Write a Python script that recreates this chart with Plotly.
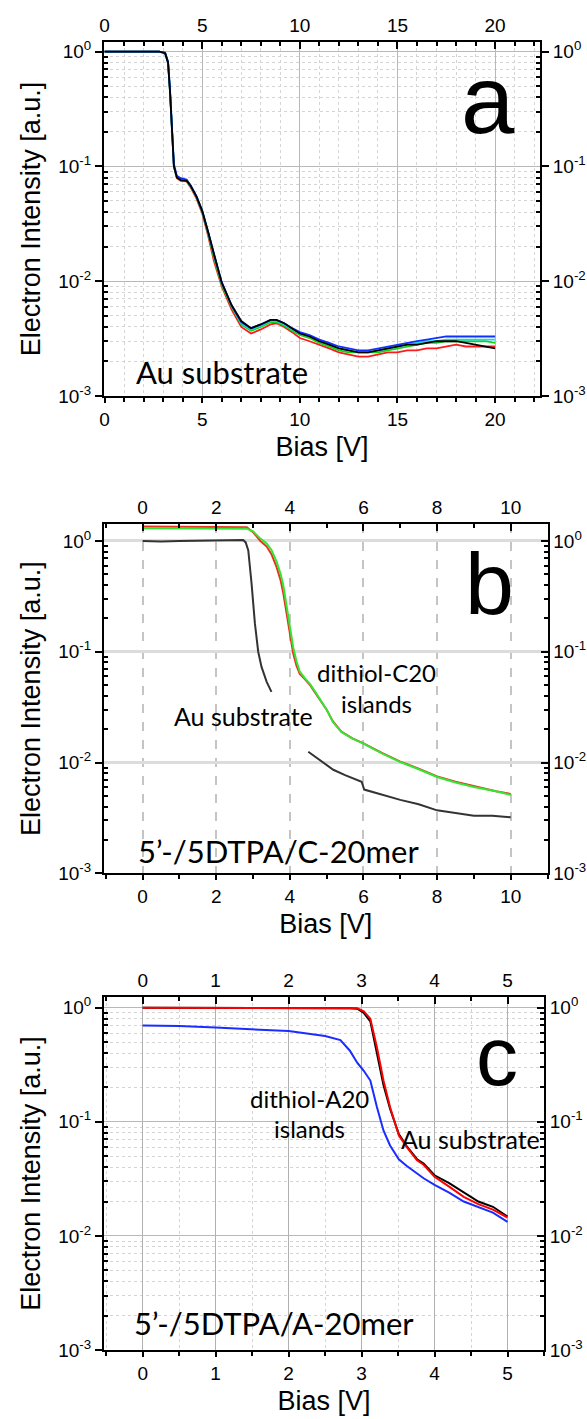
import plotly.graph_objects as go

W, H = 587, 1419

# ---------------- data: panel a (Au substrate, 5 scans) ----------------
A_BIAS = [0, 1, 2, 2.8, 3.1, 3.25, 3.35, 3.45, 3.55, 3.7, 3.9, 4.2, 4.4, 4.7,
          5.0, 5.3, 5.6, 6.0, 6.5, 7.0, 7.5, 8.0, 8.5, 8.8, 9.2, 9.6, 10, 10.5,
          11, 11.5, 12, 12.5, 13, 13.5, 14, 14.5, 15, 15.5, 16, 16.5, 17, 17.5,
          18, 18.5, 19, 19.5, 20]
A_BLACK = [1.0, 1.0, 1.0, 1.0,
           0.97, 0.80, 0.45, 0.20, 0.10,
           0.080, 0.076, 0.075, 0.068, 0.055,
           0.041, 0.027, 0.017, 0.0097, 0.0062,
           0.0045, 0.0039, 0.0042, 0.0046, 0.0046,
           0.0043, 0.0039, 0.0035, 0.0033, 0.0030,
           0.0028, 0.0026, 0.0025, 0.0024, 0.0024,
           0.0025, 0.0026, 0.0027, 0.0028, 0.0028,
           0.0029, 0.0030, 0.0030, 0.0030, 0.0029,
           0.0028, 0.0027, 0.0026]
A_BLUE = [1.0, 1.0, 1.0, 1.0,
          0.98, 0.82, 0.47, 0.21, 0.105,
          0.083, 0.079, 0.077, 0.069, 0.055,
          0.041, 0.027, 0.017, 0.0098, 0.0062,
          0.0044, 0.0039, 0.0042, 0.0046, 0.0046,
          0.0043, 0.0039, 0.0036, 0.0034, 0.0031,
          0.0029, 0.0027, 0.0026, 0.0025, 0.0025,
          0.0026, 0.0027, 0.0028, 0.0029, 0.0030,
          0.0031, 0.0032, 0.0033, 0.0033, 0.0033,
          0.0033, 0.0033, 0.0033]
A_CYAN = [1.0, 1.0, 1.0, 1.0,
          0.97, 0.81, 0.46, 0.20, 0.10,
          0.081, 0.077, 0.076, 0.068, 0.055,
          0.041, 0.027, 0.017, 0.0096, 0.0061,
          0.0043, 0.0038, 0.0041, 0.0045, 0.0045,
          0.0042, 0.0038, 0.0035, 0.0033, 0.0030,
          0.0028, 0.0026, 0.0025, 0.0024, 0.0024,
          0.0025, 0.0026, 0.0027, 0.0028, 0.0029,
          0.0030, 0.0030, 0.0031, 0.0031, 0.0031,
          0.0031, 0.0031, 0.0031]
A_GREEN = [1.0, 1.0, 1.0, 1.0,
           0.97, 0.80, 0.45, 0.20, 0.10,
           0.080, 0.076, 0.075, 0.067, 0.054,
           0.040, 0.026, 0.016, 0.0093, 0.0060,
           0.0042, 0.0037, 0.0040, 0.0044, 0.0044,
           0.0041, 0.0037, 0.0034, 0.0032, 0.0029,
           0.0027, 0.0025, 0.0024, 0.0024, 0.0024,
           0.0024, 0.0025, 0.0026, 0.0027, 0.0028,
           0.0029, 0.0029, 0.0030, 0.0030, 0.0030,
           0.0030, 0.0030, 0.0029]
A_RED = [1.0, 1.0, 1.0, 1.0,
         0.97, 0.80, 0.45, 0.20, 0.10,
         0.079, 0.075, 0.074, 0.066, 0.053,
         0.039, 0.025, 0.015, 0.0090, 0.0057,
         0.0040, 0.0035, 0.0038, 0.0042, 0.0043,
         0.0040, 0.0036, 0.0032, 0.0030, 0.0028,
         0.0026, 0.0024, 0.0023, 0.0022, 0.0022,
         0.0023, 0.0024, 0.0024, 0.0025, 0.0025,
         0.0026, 0.0026, 0.0027, 0.0028, 0.0027,
         0.0027, 0.0027, 0.0027]

# ---------------- data: panel b (C-20mer) ----------------
B_BIAS = [0, 0.5, 1, 1.5, 2, 2.5, 2.83, 3.0, 3.2, 3.37, 3.5, 3.64, 3.75, 3.82,
          3.9, 3.96, 4.03, 4.09, 4.18, 4.27, 4.4, 4.55, 4.7, 4.82, 5.0, 5.17,
          5.4, 5.7, 6.0, 6.5, 7.0, 7.5, 8.0, 8.5, 9.0, 9.6, 10.0]
B_RED = [1.35, 1.35, 1.35, 1.34, 1.34, 1.34, 1.33, 1.20, 1.00, 0.89,
         0.76, 0.58, 0.44, 0.34, 0.23, 0.168, 0.125, 0.097, 0.075, 0.063,
         0.057, 0.050, 0.042, 0.0365, 0.030, 0.0235, 0.019, 0.0165, 0.0149, 0.0122,
         0.0102, 0.0088, 0.0075, 0.0067, 0.0061, 0.0055, 0.0052]
B_GREEN = [1.30, 1.30, 1.30, 1.30, 1.30, 1.30, 1.29, 1.22, 1.05, 0.95,
           0.83, 0.65, 0.50, 0.40, 0.28, 0.20, 0.145, 0.11, 0.082, 0.066,
           0.058, 0.051, 0.043, 0.037, 0.030, 0.0232, 0.0189, 0.0164, 0.0148, 0.0121,
           0.0101, 0.0087, 0.0074, 0.0066, 0.0060, 0.0055, 0.0051]
B_AU_BIAS = [0, 0.5, 1, 1.5, 2, 2.5, 2.73, 2.8, 2.87, 2.96, 3.05, 3.14, 3.23, 3.37, 3.5,
             None,
             4.5, 4.8, 5.18, 5.5, 5.95, 6.02, 6.5, 7.0, 7.5, 8.0, 8.5, 9.0, 9.5, 10.0]
B_AU = [1.0, 0.99, 1.0, 1.01, 1.01, 1.02, 1.02, 0.97, 0.82, 0.41, 0.18, 0.10, 0.073, 0.0535, 0.0434,
        None,
        0.0125, 0.0106, 0.0086, 0.0077, 0.0067, 0.0057, 0.0051, 0.0046, 0.0042, 0.0037,
        0.0035, 0.0033, 0.0033, 0.0032]

# ---------------- data: panel c (A-20mer) ----------------
C_BIAS = [0, 0.5, 1, 1.5, 2, 2.5, 2.71, 2.84, 2.94, 3.03, 3.12, 3.21, 3.30, 3.39,
          3.51, 3.62, 3.76, 3.85, 4.0, 4.2, 4.4, 4.6, 4.8, 5.0]
C_BLACK = [1.0, 1.0, 1.0, 1.0, 1.0, 0.99, 0.99, 0.99, 0.98, 0.90,
           0.76, 0.40, 0.21, 0.13, 0.078, 0.061, 0.047, 0.043, 0.034, 0.029,
           0.024, 0.020, 0.018, 0.0148]
C_RED = [1.0, 1.0, 1.0, 1.0, 1.0, 0.99, 0.99, 0.99, 0.99, 0.93,
         0.80, 0.45, 0.23, 0.135, 0.076, 0.060, 0.046, 0.042, 0.033, 0.027,
         0.022, 0.019, 0.017, 0.0145]
C_BLUE = [0.70, 0.69, 0.67, 0.65, 0.625, 0.565, 0.52, 0.42, 0.33, 0.28,
          0.23, 0.135, 0.084, 0.062, 0.047, 0.041, 0.035, 0.032, 0.028, 0.024,
          0.020, 0.018, 0.016, 0.0133]

Y_TICK_VALS = [0.001, 0.01, 0.1, 1]
Y_TICK_TEXT = ["10<sup>-3</sup>", "10<sup>-2</sup>", "10<sup>-1</sup>", "10<sup>0</sup>"]
Y_TITLE = "Electron Intensity [a.u.]"
X_TITLE = "Bias [V]"

# ---------------- styling ----------------
FONT = "Liberation Sans Narrow, Liberation Sans, Arial, sans-serif"
ANN_FONT = "Lato, Gill Sans, Open Sans, sans-serif"
TICKFONT = dict(family=FONT, size=19, color="black")
TITLEFONT = dict(family=FONT, size=27, color="black")
MINOR_Y = [k * 10 ** e for e in (-3, -2, -1) for k in range(2, 10)]


def px2x(p):
    return p / W


def px2y(p):
    return 1 - p / H


fig = go.Figure()

# panel geometry in pixels
PANELS = [
    dict(xd=(104, 540), yd=(42, 396), xr=[-0.03, 22.3], yr=[-3, 0.084], dt=5, mdt=1,
         xgrid=dict(gridcolor="#b8b8b8", gridwidth=1.3, griddash="solid"),
         ygrid=dict(gridcolor="#b8b8b8", gridwidth=1.3, griddash="solid"),
         minorgrid=True, rticks="outside"),
    dict(xd=(104, 547.5), yd=(524, 873.3), xr=[-1.05, 11.0], yr=[-3, 0.153], dt=2, mdt=1,
         xgrid=dict(gridcolor="#c4c4c4", gridwidth=1.5, griddash="dash"),
         ygrid=dict(gridcolor="#dcdcdc", gridwidth=3, griddash="solid"),
         minorgrid=False, rticks="inside"),
    dict(xd=(104, 544), yd=(997, 1350), xr=[-0.53, 5.5], yr=[-3, 0.094], dt=1, mdt=0.5,
         xgrid=dict(gridcolor="#b0b0b0", gridwidth=1.3, griddash="solid"),
         ygrid=dict(gridcolor="#b8b8b8", gridwidth=1.3, griddash="solid"),
         minorgrid=True, rticks="inside"),
]

layout_axes = {}
for i, p in enumerate(PANELS):
    n_main = 2 * i + 1
    n_over = 2 * i + 2
    xm = "x" if n_main == 1 else f"x{n_main}"
    ym = "y" if n_main == 1 else f"y{n_main}"
    xo = f"x{n_over}"
    yo = f"y{n_over}"
    xdom = [px2x(p["xd"][0]), px2x(p["xd"][1])]
    ydom = [px2y(p["yd"][1]), px2y(p["yd"][0])]
    common_line = dict(showline=True, linecolor="black", linewidth=2, zeroline=False,
                       automargin=False, tickfont=TICKFONT, tickcolor="black")
    minor_x = dict(dtick=p["mdt"], ticks="outside", ticklen=4, tickcolor="black",
                   showgrid=p["minorgrid"], gridcolor="#d4d4d4", griddash="dot", gridwidth=1)
    minor_y = dict(tickmode="array", tickvals=MINOR_Y, ticks="inside", ticklen=4,
                   tickcolor="black", showgrid=p["minorgrid"], gridcolor="#d4d4d4",
                   griddash="dot", gridwidth=1)
    layout_axes["xaxis" if n_main == 1 else f"xaxis{n_main}"] = dict(
        domain=xdom, anchor=ym, range=p["xr"], dtick=p["dt"], tick0=0,
        ticks="outside", ticklen=5, tickwidth=1.5, showgrid=True, **p["xgrid"],
        minor=minor_x, title=dict(text=X_TITLE, font=TITLEFONT, standoff=8),
        **common_line)
    layout_axes[f"xaxis{n_over}"] = dict(
        overlaying=xm, anchor=ym, side="top", range=p["xr"], dtick=p["dt"], tick0=0,
        ticks="inside", ticklen=7, tickwidth=1.5, showgrid=False,
        minor=dict(dtick=p["mdt"], ticks="inside", ticklen=4, tickcolor="black", showgrid=False),
        **common_line)
    layout_axes["yaxis" if n_main == 1 else f"yaxis{n_main}"] = dict(
        domain=ydom, anchor=xm, type="log", range=p["yr"], tickmode="array",
        tickvals=Y_TICK_VALS, ticktext=Y_TICK_TEXT, ticks="outside", ticklen=7,
        tickwidth=1.5, showgrid=True, **p["ygrid"], minor=minor_y,
        title=dict(text=Y_TITLE, font=TITLEFONT, standoff=10), **common_line)
    layout_axes[f"yaxis{n_over}"] = dict(
        overlaying=ym, anchor=xm, side="right", type="log", range=p["yr"], tickmode="array",
        tickvals=Y_TICK_VALS, ticktext=Y_TICK_TEXT, ticks=p["rticks"], ticklen=7,
        tickwidth=1.5, showgrid=False,
        minor=dict(tickmode="array", tickvals=MINOR_Y, ticks="inside", ticklen=4,
                   tickcolor="black", showgrid=False),
        **common_line)
    # dummy trace so the overlay axes are drawn
    fig.add_trace(go.Scatter(x=[None], y=[None], xaxis=xo, yaxis=yo, showlegend=False,
                             hoverinfo="skip"))


def line(x, y, color, xa, ya, w=1.8, name=None, gaps=False):
    fig.add_trace(go.Scatter(x=x, y=y, mode="lines", line=dict(color=color, width=w),
                             xaxis=xa, yaxis=ya, showlegend=False, name=name,
                             connectgaps=gaps))


# panel a
line(A_BIAS, A_RED, "#ff1a1a", "x", "y", name="scan red")
line(A_BIAS, A_GREEN, "#12d412", "x", "y", name="scan green")
line(A_BIAS, A_CYAN, "#17d8e6", "x", "y", name="scan cyan")
line(A_BIAS, A_BLUE, "#1030ff", "x", "y", name="scan blue")
line(A_BIAS, A_BLACK, "#000000", "x", "y", name="scan black")
# panel b
line(B_AU_BIAS, B_AU, "#333333", "x3", "y3", w=2.0, name="Au substrate")
line(B_BIAS, B_RED, "#e8321e", "x3", "y3", w=2.0, name="dithiol-C20 red")
line(B_BIAS, B_GREEN, "#33e633", "x3", "y3", w=2.0, name="dithiol-C20 green")
# panel c
line(C_BIAS, C_BLACK, "#000000", "x5", "y5", w=2.0, name="Au substrate black")
line(C_BIAS, C_RED, "#ff0000", "x5", "y5", w=2.0, name="Au substrate red")
line(C_BIAS, C_BLUE, "#1a2cff", "x5", "y5", w=2.0, name="dithiol-A20 islands")


def note(text, xc, yc, size, family=ANN_FONT, xanchor="center"):
    return dict(text=text, x=px2x(xc), y=px2y(yc), xref="paper", yref="paper",
                xanchor=xanchor, yanchor="middle", showarrow=False,
                font=dict(family=family, size=size, color="black"))


annotations = [
    note("a", 488, 100, 96, family=FONT),
    note("b", 489, 583, 88, family=FONT),
    note("c", 497, 1056, 84, family=FONT),
    note("Au substrate", 222, 372, 31),
    note("Au substrate", 243, 716, 25),
    note("dithiol-C20", 376, 672, 24),
    note("islands", 376, 703, 24),
    note("5’-/5DTPA/C-20mer", 278, 851, 31),
    note("dithiol-A20", 309, 1098, 24),
    note("islands", 309, 1128, 24),
    note("Au substrate", 470, 1139, 25),
    note("5’-/5DTPA/A-20mer", 274, 1323, 31),
]

fig.update_layout(
    width=W, height=H, margin=dict(l=0, r=0, t=0, b=0),
    paper_bgcolor="white", plot_bgcolor="white", showlegend=False,
    annotations=annotations, **layout_axes,
)

fig.write_html("out.html")
